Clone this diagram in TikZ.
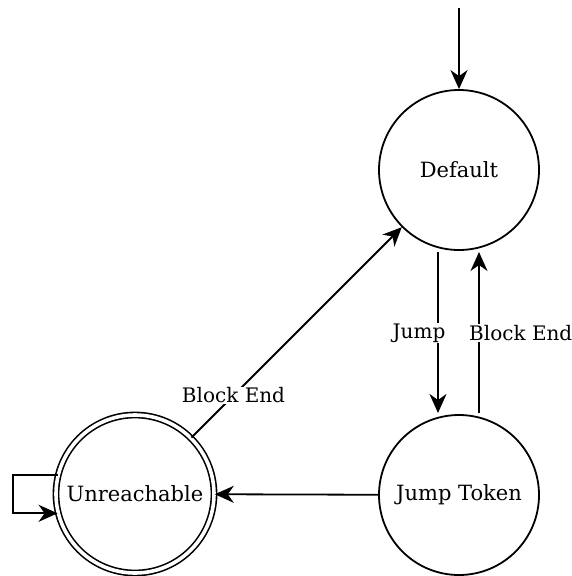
\documentclass[tikz,border=0pt]{standalone}
\usepackage{fontspec}
\setmainfont{DejaVu Serif}
\usetikzlibrary{arrows.meta}
\begin{document}
\begin{tikzpicture}[x=1pt,y=-1pt,
  every node/.style={font=\fontsize{21}{25}\selectfont},
  state/.style={circle,draw,line width=1.8pt,minimum size=160pt,inner sep=0pt},
  edge/.style={line width=1.8pt,-{Stealth[length=19pt,width=17pt,inset=6pt]}},
  lbl/.style={fill=white,inner sep=1pt,font=\fontsize{20}{24}\selectfont}]
\useasboundingbox (0,0) rectangle (572,576);
% states
\node[state] (def) at (459,170) {Default};
\node[state] (jt) at (459,495) {Jump Token};
\node[state,minimum size=158pt,line width=1.6pt,double,double distance=3.6pt] (un) at (135,494) {Unreachable};
% initial arrow
\coordinate (start) at (459,8);
\draw[edge] (start) -- (def);
% transitions between Default and Jump Token
\coordinate (j1) at (438,252);
\coordinate (j2) at (438,413);
\coordinate (b1) at (479,413);
\coordinate (b2) at (479,252);
\draw[edge] (j1) -- (j2);
\node[lbl] (jl) at (419,333) {Jump};
\draw[edge] (b1) -- (b2);
\node[lbl,anchor=west] (bl) at (468,333) {Block End};
\draw[edge] (un.45) -- (def.225) node[lbl,pos=0.2] (bl2) {Block End};
\draw[edge] (jt) -- (un);
% self loop
\coordinate (la) at (13,474);
\draw[edge] (un.166) -- (un.166 -| la) -- (la |- un.194) -- (un.194);
\end{tikzpicture}
\end{document}
